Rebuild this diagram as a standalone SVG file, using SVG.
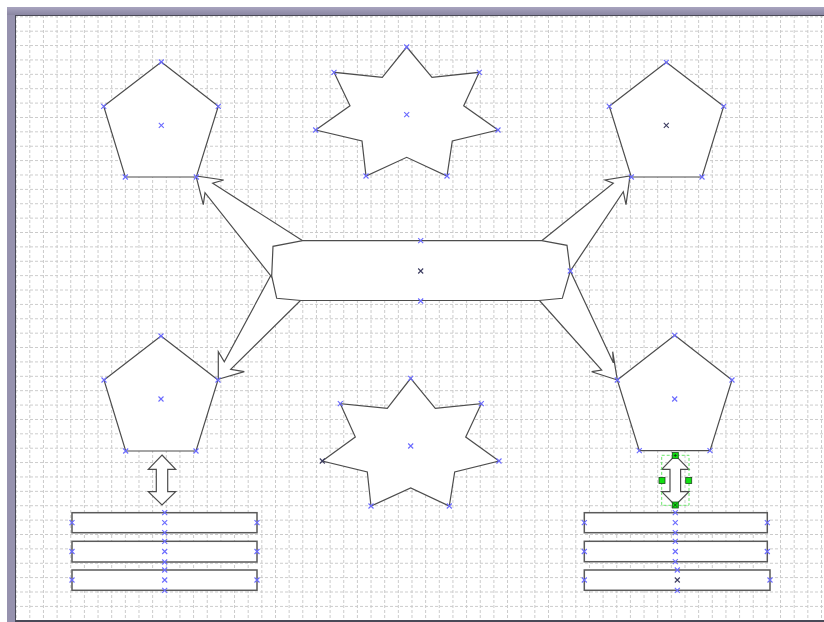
<svg xmlns="http://www.w3.org/2000/svg" xmlns:xlink="http://www.w3.org/1999/xlink" width="824" height="622" viewBox="0 0 824 622">
<style>
.sh{fill:#fff;stroke:#4d4d4d;stroke-width:1.2;stroke-linejoin:miter}
.rb{fill:#fff;stroke:#5a5a5a;stroke-width:1.5}
.xm{stroke:#6a6aff;stroke-width:1.1;fill:none}
.xd{stroke:#3c3c60;stroke-width:1.1;fill:none}
.hd{fill:#10e010;stroke:#1c4a1c;stroke-width:0.8}
.gd{shape-rendering:crispEdges}
</style>
<defs>
<pattern id="gv" patternUnits="userSpaceOnUse" x="2" y="0" width="13.65" height="5">
<rect class="gd" x="0" y="0" width="1" height="3" fill="#cacaca"/>
</pattern>
<pattern id="gh" patternUnits="userSpaceOnUse" x="0" y="1.94" width="5" height="14.38">
<rect class="gd" x="0" y="0" width="3" height="1" fill="#cacaca"/>
</pattern>
<path id="x" d="M-2.5,-2.5L2.5,2.5M-2.5,2.5L2.5,-2.5"/>
<linearGradient id="band" x1="0" y1="0" x2="0" y2="1">
<stop offset="0" stop-color="#a8a4bf"/>
<stop offset="1" stop-color="#8a86a2"/>
</linearGradient>
</defs>
<g id="frame">
<rect x="0" y="0" width="824" height="622" fill="#fff"/>
<rect x="7" y="7" width="817" height="615" fill="#9692ae"/>
<rect x="7" y="7" width="817" height="8" fill="url(#band)"/>
<rect x="15" y="15" width="809" height="607" fill="#4a4a58"/>
<rect x="16" y="16" width="808" height="604" fill="#fff"/>
<rect class="gd" x="16" y="16" width="808" height="604" fill="url(#gv)"/>
<rect class="gd" x="16" y="16" width="808" height="604" fill="url(#gh)"/>
</g>
<g id="connectors">
<polygon class="sh" points="302.7,240.7 212.7,183.3 223.7,180 196,176 203.3,204.7 205,192.7 271,276"/>
<polygon class="sh" points="541.7,240.7 613.3,183.3 605,180 630,176 626,204.7 623.3,191.7 570.3,271"/>
<polygon class="sh" points="270.5,276 224.3,361.7 218.3,351.7 218.3,379.3 244.3,371.7 230.7,369.3 301,300"/>
<polygon class="sh" points="570.3,271 613.3,362.7 612.7,351.7 617.3,380 591.7,371.7 601.7,370 539,300"/>
<polygon id="dbl-left" class="sh" points="162,455 175.7,469.3 167.7,469.3 167.7,491.7 175.7,491.7 162,505 148.3,491.7 156.3,491.7 156.3,469.3 148.3,469.3"/>
<g id="dbl-right">
<polygon class="sh" points="675.3,455.3 689,469.3 680.6,469.3 680.6,491.7 689,491.7 675.3,505.3 661.7,491.7 670,491.7 670,469.3 661.7,469.3"/>
<rect x="661.7" y="455.3" width="27.3" height="50" fill="none" stroke="#6be86b" stroke-width="1" stroke-dasharray="3,2"/>
<rect class="hd" x="672.3" y="452.5" width="6" height="6"/>
<path d="M673.8,455.5H676.8M675.3,454V457" stroke="#103010" stroke-width="0.8"/>
<rect class="hd" x="659" y="477.5" width="6" height="6"/>
<rect class="hd" x="685.7" y="477.5" width="6" height="6"/>
<rect class="hd" x="672.3" y="502" width="6" height="6"/>
<path d="M673.5,503.2L677.1,506.8M673.5,506.8L677.1,503.2" stroke="#103010" stroke-width="0.8"/>
</g>
</g>
<g id="pent-tl">
<polygon class="sh" points="161.3,62 218.3,106.3 196.3,177 125.3,177 103.7,106.3"/>
<g class="xm"><use href="#x" x="161.3" y="62"/><use href="#x" x="218.3" y="106.3"/><use href="#x" x="196.3" y="177"/><use href="#x" x="125.3" y="177"/><use href="#x" x="103.7" y="106.3"/><use href="#x" x="161.3" y="125.3"/></g>
</g>
<g id="pent-tr">
<polygon class="sh" points="666.3,62.3 723.7,106.3 702,177 631.3,177 609.3,106.3"/>
<g class="xm"><use href="#x" x="666.3" y="62.3"/><use href="#x" x="723.7" y="106.3"/><use href="#x" x="702" y="177"/><use href="#x" x="631.3" y="177"/><use href="#x" x="609.3" y="106.3"/></g>
<use class="xd" href="#x" x="666.3" y="125.3"/>
</g>
<g id="pent-bl">
<polygon class="sh" points="161,336 218,380 196,451 125.7,451 104,380"/>
<g class="xm"><use href="#x" x="161" y="336"/><use href="#x" x="218" y="380"/><use href="#x" x="196" y="451"/><use href="#x" x="125.7" y="451"/><use href="#x" x="104" y="380"/><use href="#x" x="161" y="399"/></g>
</g>
<g id="pent-br">
<polygon class="sh" points="674.7,335.3 732,380 710,450.7 639.3,450.7 617.3,380"/>
<g class="xm"><use href="#x" x="674.7" y="335.3"/><use href="#x" x="732" y="380"/><use href="#x" x="710" y="450.7"/><use href="#x" x="639.3" y="450.7"/><use href="#x" x="617.3" y="380"/><use href="#x" x="674.7" y="399"/></g>
</g>
<g id="star-top">
<polygon class="sh" points="406.7,47 432,77.3 479.3,72.3 463.7,105.7 498,130 452.3,141 447,176 406.7,157.3 366,176 362,141 315.7,130 350,105.7 334,72.3 382.3,77.3"/>
<g class="xm"><use href="#x" x="406.7" y="47"/><use href="#x" x="479.3" y="72.3"/><use href="#x" x="498" y="130"/><use href="#x" x="447" y="176"/><use href="#x" x="366" y="176"/><use href="#x" x="315.7" y="130"/><use href="#x" x="334" y="72.3"/><use href="#x" x="406.7" y="114.7"/></g>
</g>
<g id="star-bottom">
<polygon class="sh" points="410.7,378.3 435.3,408.3 481.3,403.7 465.7,437 499,461 454.7,472 449.3,506 410.7,488 371,506 367.3,472 322.3,461 355.3,437 340.3,403.7 387.3,408.3"/>
<g class="xm"><use href="#x" x="410.7" y="378.3"/><use href="#x" x="481.3" y="403.7"/><use href="#x" x="499" y="461"/><use href="#x" x="449.3" y="506"/><use href="#x" x="371" y="506"/><use href="#x" x="340.3" y="403.7"/><use href="#x" x="410.7" y="446"/></g>
<use class="xd" href="#x" x="322.3" y="461"/>
</g>
<g id="center-box">
<polygon class="sh" points="302.7,240.7 541.7,240.7 567,245.3 570.3,271 562.3,298.3 539,300.5 301,300.5 276.7,298.3 271.7,276 273,246.3"/>
<g class="xm"><use href="#x" x="420.7" y="240.7"/><use href="#x" x="420.7" y="301"/><use href="#x" x="570.3" y="271"/></g>
<use class="xd" href="#x" x="420.7" y="271"/>
</g>
<g id="stack-left">
<rect class="rb" x="72" y="512.7" width="185" height="20"/>
<rect class="rb" x="72" y="541.3" width="185" height="20.7"/>
<rect class="rb" x="72" y="570" width="185" height="20.3"/>
<g class="xm">
<use href="#x" x="164.7" y="512.7"/><use href="#x" x="164.7" y="522.7"/><use href="#x" x="164.7" y="532.7"/><use href="#x" x="72" y="522.7"/><use href="#x" x="257" y="522.7"/>
<use href="#x" x="164.7" y="541.3"/><use href="#x" x="164.7" y="551.5"/><use href="#x" x="164.7" y="562"/><use href="#x" x="72" y="551.5"/><use href="#x" x="257" y="551.5"/>
<use href="#x" x="164.7" y="570"/><use href="#x" x="164.7" y="580"/><use href="#x" x="164.7" y="590.3"/><use href="#x" x="72" y="580"/><use href="#x" x="257" y="580"/>
</g>
</g>
<g id="stack-right">
<rect class="rb" x="584.3" y="512.7" width="183" height="20"/>
<rect class="rb" x="584.3" y="541.3" width="183" height="20.4"/>
<rect class="rb" x="584.3" y="570" width="185.7" height="20.3"/>
<g class="xm">
<use href="#x" x="675.3" y="512.7"/><use href="#x" x="675.3" y="522.7"/><use href="#x" x="675.3" y="532.7"/><use href="#x" x="584.3" y="522.7"/><use href="#x" x="767.3" y="522.7"/>
<use href="#x" x="675.3" y="541.3"/><use href="#x" x="675.3" y="551.5"/><use href="#x" x="675.3" y="561.7"/><use href="#x" x="584.3" y="551.5"/><use href="#x" x="767.3" y="551.5"/>
<use href="#x" x="677.3" y="570"/><use href="#x" x="677.3" y="590.3"/><use href="#x" x="584.3" y="580"/><use href="#x" x="770" y="580"/>
</g>
<use class="xd" href="#x" x="677.3" y="580"/>
</g>
</svg>
